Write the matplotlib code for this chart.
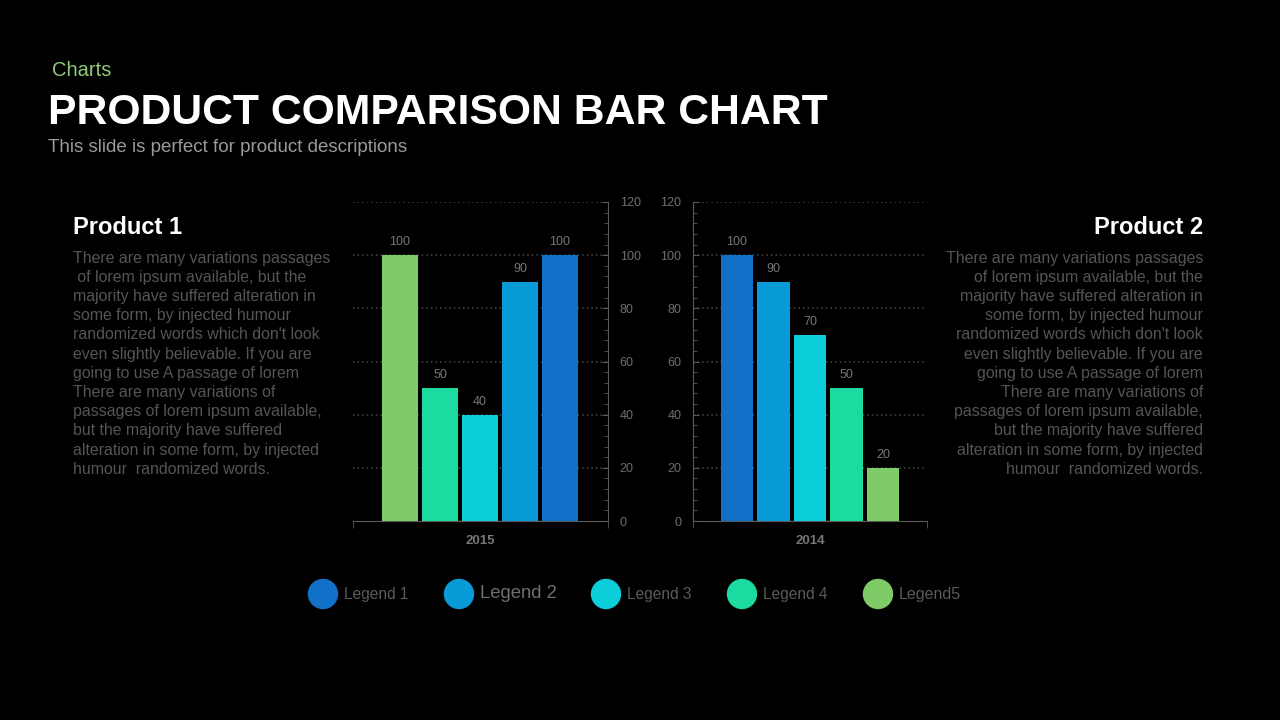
import matplotlib
matplotlib.use("Agg")
import matplotlib.pyplot as plt
from matplotlib.ticker import MultipleLocator, FixedLocator
from matplotlib.patches import Ellipse

plt.rcParams['font.family'] = ['Liberation Sans', 'DejaVu Sans']

# data
legend_names = ["Legend 1", "Legend 2", "Legend 3", "Legend 4", "Legend5"]
colors = ["#1170C8", "#089BD7", "#0CCDDA", "#1BDBA0", "#7ECB67"]
vals_2015 = [100, 90, 40, 50, 100]   # per legend entry
vals_2014 = [100, 90, 70, 50, 20]
year_left = "2015"
year_right = "2014"
yticks = [0, 20, 40, 60, 80, 100, 120]

para_lines = [
    "There are many variations passages",
    " of lorem ipsum available, but the",
    "majority have suffered alteration in",
    "some form, by injected humour",
    "randomized words which don't look",
    "even slightly believable. If you are",
    "going to use A passage of lorem",
    "There are many variations of",
    "passages of lorem ipsum available,",
    "but the majority have suffered",
    "alteration in some form, by injected",
    "humour  randomized words.",
]

W, H = 1280, 720
fig = plt.figure(figsize=(12.8, 7.2), dpi=100, facecolor="black")

def fx(x):
    return x / W

def fy(y):
    return 1 - y / H

GRID = "#4a4a4a"
SPINE = "#5a5a5a"
TXT = "#777777"


def bar_panel(rect, vals, cols, year, side, xlim):
    l, t, r, b = rect
    ax = fig.add_axes([fx(l), fy(b), fx(r) - fx(l), fy(t) - fy(b)])
    ax.set_facecolor("black")
    xs = list(range(len(vals)))
    bars = ax.bar(xs, vals, width=0.88, color=cols, zorder=3)
    for bar, v in zip(bars, vals):
        ax.text(bar.get_x() + bar.get_width() / 2, v + 2.6, str(v),
                ha="center", va="bottom", color=TXT, fontsize=9)
    ax.set_ylim(0, 120)
    ax.set_xlim(*xlim)
    for g in yticks[1:]:
        ax.axhline(g, color=GRID, lw=1.1, ls=(0, (1, 2)), zorder=1)
    ax.set_yticks(yticks)
    ax.yaxis.set_minor_locator(MultipleLocator(4))
    ax.tick_params(axis="y", which="both", direction="in", colors=SPINE,
                   labelcolor="#6e6e6e", labelsize=9, pad=8.5)
    ax.tick_params(axis="y", which="major", length=4)
    ax.tick_params(axis="y", which="minor", length=3)
    if side == "right":
        ax.yaxis.tick_right()
        ax.spines["left"].set_visible(False)
        ax.spines["right"].set_color(SPINE)
    else:
        ax.spines["right"].set_visible(False)
        ax.spines["left"].set_color(SPINE)
    ax.spines["top"].set_visible(False)
    ax.spines["bottom"].set_color(SPINE)
    ax.set_xticks([2])
    ax.set_xticklabels([year], fontweight="bold", color=TXT, fontsize=9.5)
    ax.xaxis.set_minor_locator(FixedLocator(list(xlim)))
    ax.tick_params(axis="x", which="major", length=0, pad=10)
    ax.tick_params(axis="x", which="minor", length=5, direction="out", colors=SPINE)
    return ax


# left chart: bars drawn in reverse legend order
bar_panel((353, 202, 608, 521), vals_2015[::-1], colors[::-1], year_left, "right", (-1.175, 5.2))
bar_panel((693, 202, 927, 521), vals_2014, colors, year_right, "left", (-1.2, 5.2))

# header texts
fig.text(fx(52), fy(71), "Charts", color="#8fc97a", fontsize=14.5, va="center")
fig.text(fx(48), fy(113), "PRODUCT COMPARISON BAR CHART", color="white",
         fontsize=30.8, fontweight="bold", va="center")
fig.text(fx(48), fy(148), "This slide is perfect for product descriptions",
         color="#9a9a9a", fontsize=13.5, va="center")

# product columns
fig.text(fx(73), fy(227), "Product 1", color="white", fontsize=17,
         fontweight="bold", va="center")
fig.text(fx(1203), fy(227), "Product 2", color="white", fontsize=17,
         fontweight="bold", va="center", ha="right")
for i, line in enumerate(para_lines):
    y = 258 + i * 19.2
    fig.text(fx(73), fy(y), line, color="#555555", fontsize=11.4, va="center")
    fig.text(fx(1203), fy(y), line.strip(), color="#555555", fontsize=11.4,
             va="center", ha="right")

# legend row
leg_x = [323, 459, 606, 742, 878]
leg_size = [11.2, 13.3, 11.2, 11.2, 11.5]
leg_col = ["#5a5a5a", "#6e6e6e", "#5a5a5a", "#5a5a5a", "#5a5a5a"]
for x, name, c, s, tc in zip(leg_x, legend_names, colors, leg_size, leg_col):
    fig.add_artist(Ellipse((fx(x), fy(594)), 29 / W, 29 / H, color=c,
                           transform=fig.transFigure))
    fig.text(fx(x + 21), fy(594), name, color=tc, fontsize=s, va="center")

fig.savefig("out.png", dpi=100, facecolor="black")
